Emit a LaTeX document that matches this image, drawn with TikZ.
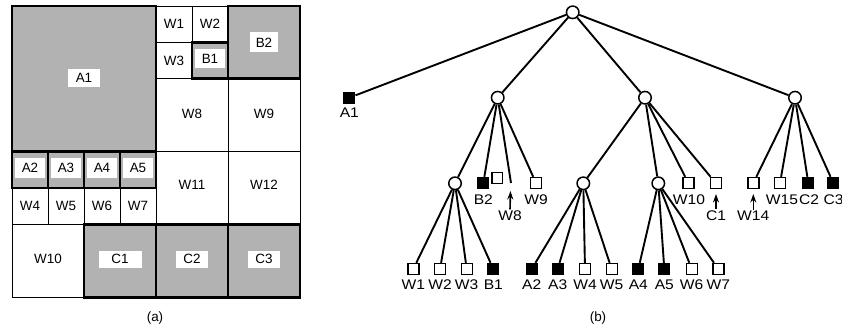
\documentclass[tikz,border=0pt]{standalone}
\usepackage{fontspec}
\setmainfont{Liberation Sans}
\newfontfamily\treefont[FakeStretch=1.12]{Liberation Sans}
\usetikzlibrary{arrows.meta}
\pgfdeclarelayer{edgelayer}
\pgfsetlayers{edgelayer,main}
\begin{document}
\begin{tikzpicture}[x=1bp,y=-1bp,
  thinc/.style={line width=0.9bp},
  thickc/.style={line width=2.7bp},
  glab/.style={font=\fontsize{13.5}{13.5}\selectfont, inner sep=0pt},
  wlab/.style={fill=white, font=\fontsize{13.5}{13.5}\selectfont, inner sep=0pt, minimum height=18bp, minimum width=32bp},
  inode/.style={circle, draw, fill=white, line width=1.5bp, minimum size=12.5bp, inner sep=0pt},
  bleaf/.style={rectangle, fill=black, minimum size=12bp, inner sep=0pt},
  wleaf/.style={rectangle, draw, fill=white, line width=1.4bp, minimum size=11bp, inner sep=0pt},
  edge/.style={line width=1.9bp},
  arr/.style={line width=1.6bp, -{Stealth[length=8.5bp,width=6bp]}},
  tl/.style={font=\treefont\fontsize{14}{14}\selectfont, inner sep=0pt}
]
\useasboundingbox (0,0) rectangle (842,333);
% ---------- (a) grid ----------
\fill[black!30] (12,6) rectangle (156,151.6);
\fill[black!30] (192,42.4) rectangle (228,78.8);
\fill[black!30] (228,6) rectangle (300,78.8);
\fill[black!30] (12,151.6) rectangle (156,188);
\fill[black!30] (84,224.4) rectangle (300,297.2);
% white cells
\draw[thinc] (156,6) rectangle (192,42.4);
\draw[thinc] (192,6) rectangle (228,42.4);
\draw[thinc] (156,42.4) rectangle (192,78.8);
\draw[thinc] (156,78.8) rectangle (228,151.6);
\draw[thinc] (228,78.8) rectangle (300,151.6);
\draw[thinc] (156,151.6) rectangle (228,224.4);
\draw[thinc] (228,151.6) rectangle (300,224.4);
\draw[thinc] (12,188) rectangle (48,224.4);
\draw[thinc] (48,188) rectangle (84,224.4);
\draw[thinc] (84,188) rectangle (120,224.4);
\draw[thinc] (120,188) rectangle (156,224.4);
\draw[thinc] (12,224.4) rectangle (84,297.2);
% gray cells
\draw[thickc] (12,6) rectangle (156,151.6);
\draw[thickc] (192,42.4) rectangle (228,78.8);
\draw[thickc] (228,6) rectangle (300,78.8);
\draw[thickc] (12,151.6) rectangle (48,188);
\draw[thickc] (48,151.6) rectangle (84,188);
\draw[thickc] (84,151.6) rectangle (120,188);
\draw[thickc] (120,151.6) rectangle (156,188);
\draw[thickc] (84,224.4) rectangle (156,297.2);
\draw[thickc] (156,224.4) rectangle (228,297.2);
\draw[thickc] (228,224.4) rectangle (300,297.2);
% labels
\node[wlab] (gA1) at (84,78) {A1};
\node[glab] (gW1) at (174,24.2) {W1};
\node[glab] (gW2) at (210,24.2) {W2};
\node[glab] (gW3) at (174,60.6) {W3};
\node[wlab, minimum width=30bp, minimum height=19bp] (gB1) at (210,58.5) {B1};
\node[wlab, minimum width=28bp, minimum height=20bp] (gB2) at (264,42.4) {B2};
\node[glab] (gW8) at (192,114) {W8};
\node[glab] (gW9) at (264,114) {W9};
\node[wlab, minimum width=30bp, minimum height=20bp] (gA2) at (30,168) {A2};
\node[wlab, minimum width=30bp, minimum height=20bp] (gA3) at (66,168) {A3};
\node[wlab, minimum width=30bp, minimum height=20bp] (gA4) at (102,168) {A4};
\node[wlab, minimum width=30bp, minimum height=20bp] (gA5) at (138,168) {A5};
\node[glab] (gW4) at (30,206.2) {W4};
\node[glab] (gW5) at (66,206.2) {W5};
\node[glab] (gW6) at (102,206.2) {W6};
\node[glab] (gW7) at (138,206.2) {W7};
\node[glab] (gW11) at (192,185) {W11};
\node[glab] (gW12) at (264,185) {W12};
\node[glab] (gW10) at (48,259) {W10};
\node[wlab, minimum width=43bp, minimum height=17bp] (gC1) at (120,259) {C1};
\node[wlab, minimum height=17bp] (gC2) at (192,259) {C2};
\node[wlab, minimum height=17bp] (gC3) at (264,259) {C3};
\node[glab] (capa) at (155,318) {(a)};
% ---------- (b) tree ----------
\node[inode] (r) at (572.7,12.3) {};
\node[bleaf] (a1) at (349.3,97.7) {};
\node[inode] (n1) at (497.7,97.7) {};
\node[inode] (n2) at (645,97.7) {};
\node[inode] (n3) at (795,97.7) {};
\node[inode] (n11) at (455,183.3) {};
\node[bleaf] (b2) at (483.3,183) {};
\node[wleaf, minimum size=10.5bp] (ex) at (497.2,178) {};
\coordinate (w8) at (511,183);
\node[wleaf] (w9) at (536,183) {};
\node[inode] (n21) at (583.3,183.3) {};
\node[inode] (n22) at (658.3,183.3) {};
\node[wleaf] (w10) at (688.3,183) {};
\node[wleaf] (c1) at (715.7,183) {};
\node[wleaf] (w14) at (753.3,183) {};
\node[wleaf] (w15) at (780,183) {};
\node[bleaf] (c2) at (808.3,183) {};
\node[bleaf] (c3) at (833.3,183) {};
\node[wleaf] (bw1) at (413.3,269) {};
\node[wleaf] (bw2) at (440,269) {};
\node[wleaf] (bw3) at (466.7,269) {};
\node[bleaf] (bb1) at (493.3,269) {};
\node[bleaf] (ba2) at (531.7,269) {};
\node[bleaf] (ba3) at (557.7,269) {};
\node[wleaf] (bw4) at (585,269) {};
\node[wleaf] (bw5) at (611.7,269) {};
\node[bleaf] (ba4) at (638.3,269) {};
\node[bleaf] (ba5) at (664.3,269) {};
\node[wleaf] (bw6) at (691.7,269) {};
\node[wleaf] (bw7) at (718.3,269) {};
% edges (behind the nodes)
\begin{pgfonlayer}{edgelayer}
\draw[edge] (r) -- (a1);
\draw[edge] (r) -- (n1);
\draw[edge] (r) -- (n2);
\draw[edge] (r) -- (n3);
\draw[edge] (n1) -- (n11);
\draw[edge] (n1) -- (b2);
\draw[edge] (n1) -- (w8);
\draw[edge] (n1) -- (w9);
\draw[edge] (n2) -- (n21);
\draw[edge] (n2) -- (n22);
\draw[edge] (n2) -- (w10);
\draw[edge] (n2) -- (c1);
\draw[edge] (n3) -- (w14);
\draw[edge] (n3) -- (w15);
\draw[edge] (n3) -- (c2);
\draw[edge] (n3) -- (c3);
\draw[edge] (n11) -- (bw1);
\draw[edge] (n11) -- (bw2);
\draw[edge] (n11) -- (bw3);
\draw[edge] (n11) -- (bb1);
\draw[edge] (n21) -- (ba2);
\draw[edge] (n21) -- (ba3);
\draw[edge] (n21) -- (bw4);
\draw[edge] (n21) -- (bw5);
\draw[edge] (n22) -- (ba4);
\draw[edge] (n22) -- (ba5);
\draw[edge] (n22) -- (bw6);
\draw[edge] (n22) -- (bw7);
\end{pgfonlayer}
% labels
\node[tl] (la1) at (349.3,113) {A1};
\node[tl] (lb2) at (483.3,200) {B2};
\node[tl] (lw9) at (536,200) {W9};
\node[tl] (lw10) at (689,200) {W10};
\node[tl] (lw15) at (782,200) {W15};
\node[tl] (lc2) at (809,200) {C2};
\node[tl] (lc3) at (833.5,200) {C3};
\node[tl] (lw8) at (510,216) {W8};
\node[tl] (lc1) at (716,216) {C1};
\node[tl] (lw14) at (753.3,216) {W14};
\coordinate (w8tip) at (510.5,191);
\coordinate (c1tip) at (716,194);
\coordinate (w14tip) at (753.3,194);
\draw[arr] (lw8.north) ++(0,-1.5) coordinate (w8tail) (w8tail) -- (w8tip);
\draw[arr] (lc1.north) ++(0,-1.5) coordinate (c1tail) (c1tail) -- (c1tip);
\draw[arr] (lw14.north) ++(0,-1.5) coordinate (w14tail) (w14tail) -- (w14tip);
\node[tl] (lbw1) at (413.3,285) {W1};
\node[tl] (lbw2) at (440,285) {W2};
\node[tl] (lbw3) at (466.7,285) {W3};
\node[tl] (lbb1) at (493.3,285) {B1};
\node[tl] (lba2) at (531.7,285) {A2};
\node[tl] (lba3) at (557.7,285) {A3};
\node[tl] (lbw4) at (585,285) {W4};
\node[tl] (lbw5) at (611.7,285) {W5};
\node[tl] (lba4) at (638.3,285) {A4};
\node[tl] (lba5) at (664.3,285) {A5};
\node[tl] (lbw6) at (691.7,285) {W6};
\node[tl] (lbw7) at (718.3,285) {W7};
\node[glab] (capb) at (598,318) {(b)};
\end{tikzpicture}
\end{document}
